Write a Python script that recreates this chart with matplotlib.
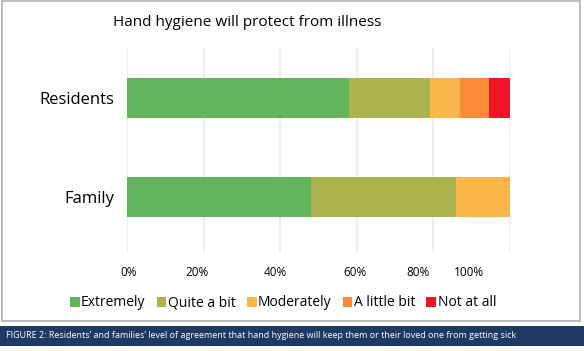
import numpy as np
import matplotlib.pyplot as plt
from matplotlib.patches import Rectangle

groups = ["Residents", "Family"]
levels = ["Extremely", "Quite a bit", "Moderately", "A little bit", "Not at all"]
residents = [58, 21, 8, 7.5, 5.5]
family = [48, 38, 14, 0, 0]
colors = ["#63b45d", "#abb34e", "#fab54b", "#fa8c38", "#ee1529"]

grid_pos = [0, 20, 40, 60, 80, 100]
tick_labels = ["0%", "20%", "40%", "60%", "80%", "100%"]
# label positions as drawn in the original (they drift from the gridlines)
label_pos = [0.3, 18.4, 38.6, 59.5, 76, 89.4]

W, H = 584, 351
fig = plt.figure(figsize=(W / 100, H / 100), dpi=100)
plt.rcParams["font.family"] = ["Open Sans", "DejaVu Sans"]

# outer frame and caption band
fig.patches.append(Rectangle((2 / W, 1 - 321 / H), 578 / W, 320 / H, transform=fig.transFigure,
                             fill=False, edgecolor="#b0b0b0", lw=1.2))
fig.patches.append(Rectangle((0, 1 - 346 / H), 1, 20 / H, transform=fig.transFigure,
                             facecolor="#1e3a64", edgecolor="none"))
fig.text(6 / W, 1 - 336 / H, "FIGURE 2: Residents\u2019 and families\u2019 level of agreement that hand hygiene "
         "will keep them or their loved one from getting sick",
         color="white", fontsize=6.5, va="center", ha="left")

ax = fig.add_axes([127 / W, 1 - 252 / H, 383 / W, 204 / H])
data = np.array([residents, family])
y = np.arange(len(groups))
left = np.zeros(len(groups))
handles = []
for i, lev in enumerate(levels):
    b = ax.barh(y, data[:, i], left=left, height=0.4, color=colors[i], label=lev)
    handles.append(b)
    left += data[:, i]

ax.set_xlim(0, 100)
ax.set_ylim(1.55, -0.5)
for g in grid_pos:
    ax.axvline(g, color="#ededed", lw=1.5, zorder=0)
ax.set_yticks(y, groups, fontsize=12)
ax.set_xticks(label_pos, tick_labels, fontsize=8.5)
ax.tick_params(axis="y", length=0, pad=9)
ax.tick_params(axis="x", length=0, pad=10)
for s in ax.spines.values():
    s.set_visible(False)

fig.text(247 / W, 1 - 22 / H, "Hand hygiene will protect from illness", ha="center", va="center", fontsize=11)

fig.legend(handles=handles, labels=levels, loc="center", bbox_to_anchor=(283 / W, 1 - 303 / H),
           ncol=5, frameon=False, fontsize=10, handlelength=0.7, handleheight=0.7,
           handletextpad=0.1, columnspacing=0.8)

fig.savefig("out.png", dpi=100)
